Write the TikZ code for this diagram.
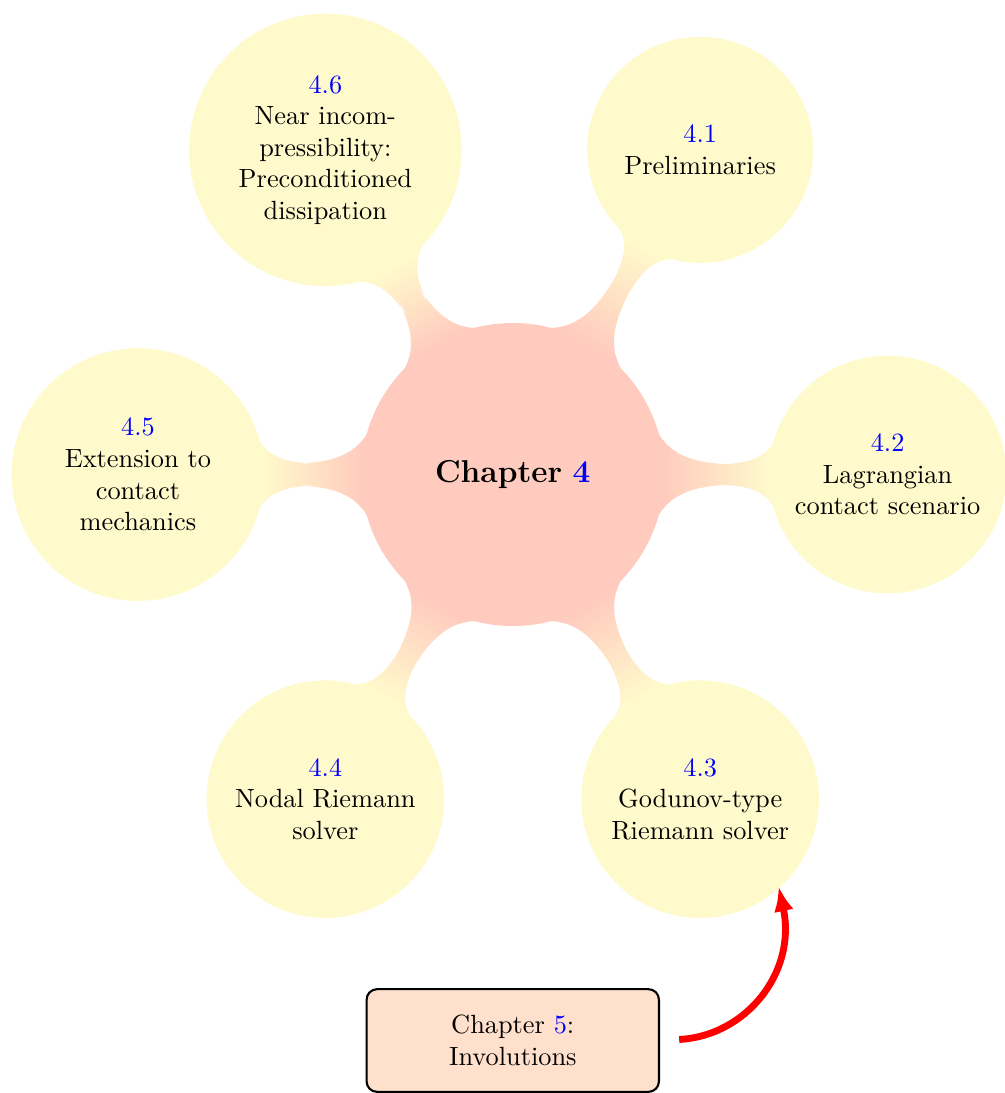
\documentclass[tikz,border=0pt]{standalone}
\usetikzlibrary{mindmap,trees,arrows.meta}
\definecolor{chapfill}{RGB}{255,203,190}
\definecolor{secfill}{RGB}{255,250,204}
\definecolor{boxfill}{RGB}{255,224,205}
\begin{document}
\begin{tikzpicture}[mindmap, concept color=chapfill,
    root/.style={concept, minimum size=4cm, text width=3.5cm, align=center, font=\large\bfseries},
    sec/.style={concept, minimum size=2cm, text width=2.6cm, inner sep=3.33pt, align=center, font=\normalsize},
    level 1/.append style={level distance=5cm, sibling angle=60},
    chapbox/.style={draw, thick, rounded corners=4pt, fill=boxfill, minimum width=3.9cm, minimum height=1.37cm, align=center, font=\normalsize},
    jump/.style={-{Latex[length=9.5pt,width=7.5pt]}, red, line width=2.6pt, shorten <=0.27cm}]
  \useasboundingbox (-6.84,-8.25) rectangle (6.56,6.33);
  % sections of chapter 4
  \node[root] (ch4) {Chapter \textcolor{blue}{4}}
    [clockwise from=60]
    child[concept color=secfill] {node[sec] (s41) {\textcolor{blue}{4.1}\\Preliminaries}}
    child[concept color=secfill] {node[sec] (s42) {\textcolor{blue}{4.2}\\Lagrangian\\contact scenario}}
    child[concept color=secfill] {node[sec] (s43) {\textcolor{blue}{4.3}\\Godunov-type\\Riemann solver}}
    child[concept color=secfill] {node[sec] (s44) {\textcolor{blue}{4.4}\\Nodal Riemann\\solver}}
    child[concept color=secfill] {node[sec] (s45) {\textcolor{blue}{4.5}\\Extension to\\contact\\mechanics}}
    child[concept color=secfill] {node[sec] (s46) {\textcolor{blue}{4.6}\\Near incom-\\pressibility:\\Preconditioned\\dissipation}};

  % next chapter
  \node[chapbox] (ch5) at (0,-7.55) {Chapter \textcolor{blue}{5}:\\Involutions};
  \draw[jump] (ch5.east) to[out=3, in=-78, looseness=1.15] (s43.-48);
\end{tikzpicture}
\end{document}
